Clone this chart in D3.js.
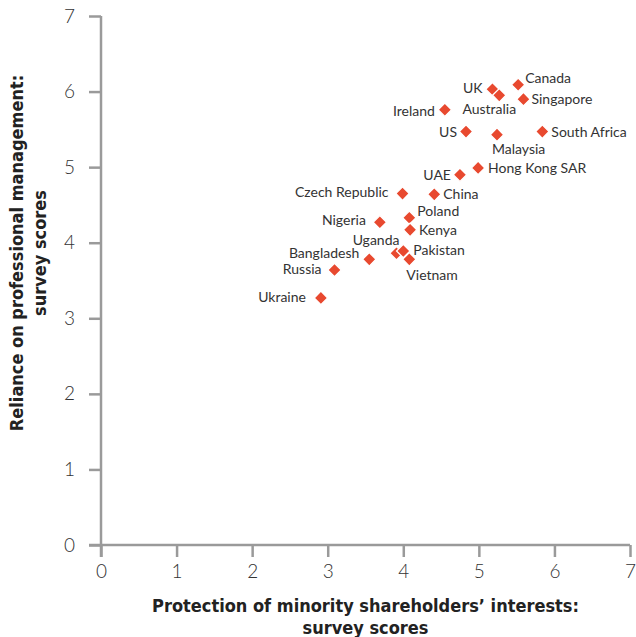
<!DOCTYPE html>
<html>
<head>
<meta charset="utf-8">
<script src="https://cdn.jsdelivr.net/npm/d3@7"></script>
<style>
  html, body { margin: 0; padding: 0; background: #fff; }
  svg { display: block; }
</style>
</head>
<body>
<svg id="chart" width="636" height="637"></svg>
<script>
// ---- Data ----
const countries = ["Canada","UK","Australia","Singapore","Ireland","US","Malaysia","South Africa",
  "Hong Kong SAR","UAE","Czech Republic","China","Nigeria","Poland","Kenya","Uganda","Pakistan",
  "Vietnam","Bangladesh","Russia","Ukraine"];
const protectionScores = [5.52,5.18,5.27,5.59,4.55,4.83,5.24,5.84,4.99,4.75,3.99,4.41,3.69,4.08,4.09,3.91,4.00,4.08,3.55,3.09,2.91];
const relianceScores   = [6.09,6.03,5.95,5.90,5.76,5.47,5.43,5.47,4.99,4.90,4.65,4.64,4.27,4.33,4.17,3.86,3.89,3.78,3.78,3.64,3.27];
const xTicks = [0,1,2,3,4,5,6,7];
const yTicks = [0,1,2,3,4,5,6,7];
const xTitle = ["Protection of minority shareholders\u2019 interests:", "survey scores"];
const yTitle = ["Reliance on professional management:", "survey scores"];

// ---- Label placement (layout only) ----
const labelPlacement = {
  "Canada": {dx: 7, dy: -7, anchor: "start"},
  "UK": {dx: -10, dy: -1, anchor: "end"},
  "Australia": {dx: -10, dy: 14, anchor: "middle"},
  "Singapore": {dx: 8, dy: 0, anchor: "start"},
  "Ireland": {dx: -10, dy: 1, anchor: "end"},
  "US": {dx: -9, dy: 0, anchor: "end"},
  "Malaysia": {dx: -5, dy: 14, anchor: "start"},
  "South Africa": {dx: 9, dy: 0, anchor: "start"},
  "Hong Kong SAR": {dx: 10, dy: 0, anchor: "start"},
  "UAE": {dx: -9, dy: 0, anchor: "end"},
  "Czech Republic": {dx: -14, dy: -1, anchor: "end"},
  "China": {dx: 9, dy: 0, anchor: "start"},
  "Nigeria": {dx: -14, dy: -2, anchor: "end"},
  "Poland": {dx: 8, dy: -7, anchor: "start"},
  "Kenya": {dx: 9, dy: 0, anchor: "start"},
  "Uganda": {dx: 3, dy: -13, anchor: "end"},
  "Pakistan": {dx: 10, dy: -1, anchor: "start"},
  "Vietnam": {dx: -3, dy: 16, anchor: "start"},
  "Bangladesh": {dx: -10, dy: -6, anchor: "end"},
  "Russia": {dx: -13, dy: -1, anchor: "end"},
  "Ukraine": {dx: -15, dy: -1, anchor: "end"}
};

const points = countries.map((c, i) => ({name: c, x: protectionScores[i], y: relianceScores[i]}));

const svg = d3.select("#chart");
const margin = {left: 101, right: 6, top: 16, bottom: 92};
const W = 636, H = 637;

const x = d3.scaleLinear().domain([0, 7]).range([margin.left, W - margin.right]);
const y = d3.scaleLinear().domain([0, 7]).range([H - margin.bottom, margin.top]);

const axisColor = "#9a9a9a";
const textColor = "#333";

// X axis
const gx = svg.append("g")
  .attr("transform", `translate(0,${y(0)})`)
  .call(d3.axisBottom(x).tickValues(xTicks).tickSize(12).tickPadding(8).tickFormat(d3.format("d")));
gx.select(".domain").remove();
gx.append("line").attr("x1", x(0) - 12).attr("x2", x(7)).attr("y1", 0).attr("y2", 0);
gx.selectAll("line").attr("stroke", axisColor).attr("stroke-width", 2.5);
gx.selectAll("text").attr("fill", textColor).attr("font-family", "Lato, sans-serif")
  .attr("font-weight", 300).attr("font-size", 19);

// Y axis
const gy = svg.append("g")
  .attr("transform", `translate(${x(0)},0)`)
  .call(d3.axisLeft(y).tickValues(yTicks).tickSize(12).tickPadding(14).tickFormat(d3.format("d")));
gy.select(".domain").remove();
gy.append("line").attr("x1", 0).attr("x2", 0).attr("y1", y(7)).attr("y2", y(0) + 12);
gy.selectAll("line").attr("stroke", axisColor).attr("stroke-width", 2.5);
gy.selectAll("text").attr("fill", textColor).attr("font-family", "Lato, sans-serif")
  .attr("font-weight", 300).attr("font-size", 19);

// Axis titles
const titleFont = "'Liberation Sans Narrow', 'DejaVu Sans Condensed', 'Arial Narrow', sans-serif";
const xMid = (x(0) + x(7)) / 2;
svg.append("text")
  .attr("x", xMid).attr("y", 612)
  .attr("text-anchor", "middle")
  .attr("font-family", titleFont).attr("font-weight", 700).attr("font-size", 18)
  .attr("fill", "#222")
  .selectAll("tspan").data(xTitle).join("tspan")
  .attr("x", xMid).attr("dy", (d, i) => i === 0 ? 0 : 22)
  .text(d => d);

svg.append("text")
  .attr("transform", `translate(23,253) rotate(-90)`)
  .attr("text-anchor", "middle")
  .attr("font-family", titleFont).attr("font-weight", 700).attr("font-size", 18)
  .attr("fill", "#222")
  .selectAll("tspan").data(yTitle).join("tspan")
  .attr("x", 0).attr("dy", (d, i) => i === 0 ? 0 : 23)
  .text(d => d);

// Points
const sym = d3.symbol().type(d3.symbolSquare).size(90);
svg.append("g").selectAll("path").data(points).join("path")
  .attr("d", sym)
  .attr("transform", d => `translate(${x(d.x)},${y(d.y)}) rotate(45)`)
  .attr("fill", "#e8492f")
  .attr("stroke", "#fff")
  .attr("stroke-width", 1.3);

// Labels
svg.append("g").selectAll("text").data(points).join("text")
  .attr("x", d => x(d.x) + labelPlacement[d.name].dx)
  .attr("y", d => y(d.y) + labelPlacement[d.name].dy)
  .attr("dy", "0.35em")
  .attr("text-anchor", d => labelPlacement[d.name].anchor)
  .attr("font-family", "Lato, sans-serif")
  .attr("font-size", 14)
  .attr("fill", textColor)
  .text(d => d.name);
</script>
</body>
</html>
